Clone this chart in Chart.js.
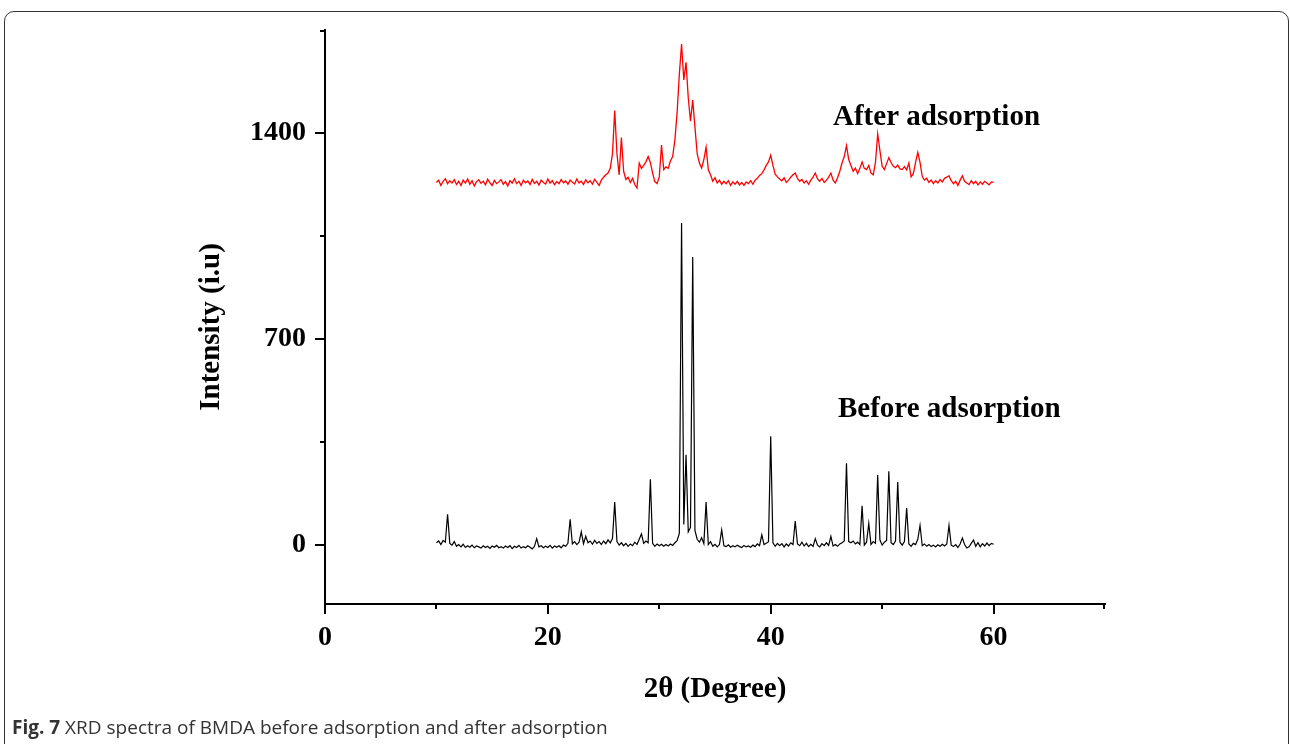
<!DOCTYPE html>
<html><head><meta charset="utf-8">
<script src="https://cdn.jsdelivr.net/npm/chart.js@4.4.0/dist/chart.umd.min.js"></script>
<style>
html,body{margin:0;padding:0;background:#fff;width:1290px;height:744px;overflow:hidden;}
#frame{position:absolute;left:4px;top:11px;width:1285px;height:800px;border:1.5px solid #333;border-radius:10px;box-sizing:border-box;}
#cv{position:absolute;left:0;top:0;}
#caption{position:absolute;left:12px;top:714px;font-family:'Open Sans',sans-serif;font-size:19px;color:#333;white-space:nowrap;}
</style></head><body>
<div id="frame"></div>
<canvas id="cv" width="1290" height="744"></canvas>
<div id="caption"><b>Fig. 7</b> XRD spectra of BMDA before adsorption and after adsorption</div>
<script>
// 2θ sampling grid: 10° to 60° every 0.2°
const twoThetaStart = 10, twoThetaStep = 0.2;

const beforeAdsorption = [
  8, 14, 2, 16, 10,
  105, 6, 0, 12, -4,
  2, -6, 3, -8, -2,
  -7, 0, -9, -3, -6,
  -10, -2, -8, -4, -11,
  -3, -7, -1, -9, -5,
  -10, -3, -8, -2, -12,
  -4, -8, -1, -10, -5,
  -9, -2, -7, -13, -4,
  22, -6, -2, -9, -4,
  -8, -1, -10, -3, -7,
  -2, -9, 0, -4, 6,
  88, 4, 12, 2, 10,
  45, 5, 30, 8, 14,
  3, 16, 6, 12, 2,
  14, 5, 18, 8, 22,
  146, 12, 0, 8, -2,
  6, -4, 4, -2, 10,
  2, 20, 38, 6, 14,
  8, 224, 6, -4, 4,
  -2, 3, -4, 2, -3,
  4, -1, 8, 15, 40,
  1094, 70, 307, 45, 60,
  979, 50, 20, 10, 25,
  5, 146, 2, 12, -4,
  3, -6, 2, 52, -2,
  -5, 1, -7, -2, -6,
  0, -5, -8, -1, -6,
  -3, -7, 0, -5, 4,
  -2, 35, 2, 6, 12,
  370, 8, -4, 6, -2,
  5, -6, 4, -3, 8,
  2, 82, 4, -2, 10,
  -3, 6, -5, 3, -4,
  22, 0, -6, 5, -2,
  8, -1, 30, -3, 2,
  -4, 4, 8, 14, 278,
  12, 8, 14, 4, 10,
  2, 134, 0, 10, 74,
  2, 12, 6, 238, 18,
  0, 10, 16, 251, 8,
  2, 14, 214, 10, 0,
  12, 126, 4, -4, 6,
  2, 20, 67, -2, 4,
  -4, 2, -5, 0, -6,
  1, -4, 3, -3, 4,
  67, 0, -5, 2, -8,
  4, 24, 2, -10, -6,
  6, 17, -4, 8, -6,
  5, -3, 7, -2, 6,
  3
];

const afterAdsorption = [
  1232, 1240, 1222, 1236, 1245,
  1228, 1238, 1230, 1242, 1225,
  1236, 1222, 1240, 1230, 1244,
  1226, 1238, 1220, 1235, 1241,
  1229, 1236, 1224, 1243, 1231,
  1222, 1239, 1228, 1234, 1242,
  1226, 1235, 1220, 1238, 1230,
  1245, 1228, 1236, 1222, 1240,
  1231, 1237, 1225, 1242, 1229,
  1236, 1223, 1240, 1232, 1227,
  1244, 1230, 1238, 1224, 1235,
  1228, 1242, 1231, 1237, 1226,
  1240, 1233, 1227, 1244, 1230,
  1236, 1225, 1241, 1231, 1238,
  1226, 1243, 1232, 1222, 1240,
  1250, 1258, 1264, 1280, 1330,
  1476, 1330, 1258, 1385, 1270,
  1242, 1250, 1232, 1246, 1225,
  1213, 1298, 1280, 1290, 1302,
  1320, 1300, 1264, 1235, 1228,
  1251, 1359, 1276, 1285, 1280,
  1305, 1320, 1376, 1470, 1600,
  1702, 1580, 1640, 1520, 1440,
  1512, 1420, 1330, 1298, 1281,
  1310, 1352, 1275, 1258, 1236,
  1248, 1230, 1240, 1226, 1236,
  1228, 1238, 1222, 1234, 1226,
  1236, 1224, 1232, 1222, 1234,
  1228, 1238, 1226, 1240, 1246,
  1256, 1262, 1275, 1290, 1302,
  1325, 1290, 1260, 1251, 1244,
  1238, 1248, 1232, 1240, 1250,
  1258, 1264, 1246, 1236, 1242,
  1230, 1238, 1226, 1240, 1250,
  1264, 1244, 1236, 1246, 1232,
  1240, 1250, 1264, 1240, 1230,
  1248, 1270, 1298, 1320, 1357,
  1310, 1290, 1270, 1281, 1262,
  1280, 1302, 1280, 1276, 1290,
  1264, 1258, 1300, 1397, 1340,
  1287, 1276, 1296, 1316, 1300,
  1287, 1282, 1291, 1278, 1276,
  1286, 1275, 1298, 1251, 1262,
  1300, 1334, 1300, 1252, 1240,
  1246, 1232, 1240, 1228, 1238,
  1230, 1242, 1234, 1246, 1250,
  1255, 1238, 1228, 1236, 1222,
  1240, 1255, 1236, 1230, 1225,
  1238, 1228, 1236, 1224, 1234,
  1226, 1236, 1230, 1224, 1234,
  1232
];

const seriesLabels = ['Before adsorption', 'After adsorption'];
const xTickValues = [0, 20, 40, 60];
const xMinorTickValues = [10, 30, 50, 70];
const yTickValues = [0, 700, 1400];
const yMinorTickValues = [350, 1050, 1750];
const xAxisTitle = '2\u03B8 (Degree)';
const yAxisTitle = 'Intensity (i.u)';

function toPoints(arr) {
  return arr.map((v, i) => ({ x: +(twoThetaStart + i * twoThetaStep).toFixed(2), y: v }));
}

const SERIF = "'Liberation Serif', 'Times New Roman', serif";

const decor = {
  id: 'decor',
  afterDraw(chart) {
    const { ctx, chartArea, scales: { x, y } } = chart;
    ctx.save();
    ctx.strokeStyle = '#000';
    ctx.lineWidth = 2;
    ctx.lineCap = 'butt';
    ctx.beginPath();
    yTickValues.forEach(v => { const py = Math.round(y.getPixelForValue(v)); ctx.moveTo(chartArea.left - 10, py); ctx.lineTo(chartArea.left, py); });
    yMinorTickValues.forEach(v => { const py = Math.round(y.getPixelForValue(v)) + (v === 1750 ? 1 : 0); ctx.moveTo(chartArea.left - 5, py); ctx.lineTo(chartArea.left, py); });
    xTickValues.forEach(v => { const px = Math.round(x.getPixelForValue(v)); ctx.moveTo(px, chartArea.bottom); ctx.lineTo(px, chartArea.bottom + 10); });
    xMinorTickValues.forEach(v => { const px = Math.round(x.getPixelForValue(v)) - (v === 70 ? 1 : 0); ctx.moveTo(px, chartArea.bottom); ctx.lineTo(px, chartArea.bottom + 5); });
    ctx.stroke();

    ctx.fillStyle = '#000';
    ctx.font = 'bold 29px ' + SERIF;
    ctx.textBaseline = 'alphabetic';
    ctx.textAlign = 'left';
    ctx.fillText(seriesLabels[1], 833, 125);
    ctx.fillText(seriesLabels[0], 838, 417);
    ctx.textAlign = 'center';
    ctx.fillText(xAxisTitle, (chartArea.left + chartArea.right) / 2, 697);
    ctx.translate(219, 327);
    ctx.rotate(-Math.PI / 2);
    ctx.fillText(yAxisTitle, 0, 0);
    ctx.restore();
  }
};

const tickFont = { family: SERIF, size: 28, weight: 'bold' };

new Chart(document.getElementById('cv'), {
  type: 'line',
  data: {
    datasets: [
      { label: seriesLabels[0], data: toPoints(beforeAdsorption), borderColor: '#000000', borderWidth: 1.2, pointRadius: 0, tension: 0, fill: false },
      { label: seriesLabels[1], data: toPoints(afterAdsorption), borderColor: '#ff0000', borderWidth: 1.3, pointRadius: 0, tension: 0, fill: false }
    ]
  },
  options: {
    responsive: false,
    animation: false,
    devicePixelRatio: 1,
    layout: { padding: { top: 30, right: 185, bottom: 0, left: 0 } },
    plugins: { legend: { display: false }, tooltip: { enabled: false }, title: { display: false } },
    scales: {
      x: {
        type: 'linear', min: 0, max: 70,
        afterBuildTicks: s => { s.ticks = xTickValues.map(v => ({ value: v })); },
        afterFit: s => { s.height = 140; s.paddingLeft = 0; s.paddingRight = 0; },
        ticks: { font: tickFont, color: '#000', padding: 9, maxRotation: 0, autoSkip: false, callback: v => String(v) },
        grid: { display: false },
        border: { display: true, color: '#000', width: 2 }
      },
      y: {
        type: 'linear', min: -200, max: 1750,
        afterBuildTicks: s => { s.ticks = yTickValues.map(v => ({ value: v })); },
        afterFit: s => { s.width = 325; s.paddingTop = 0; s.paddingBottom = 0; },
        ticks: { font: tickFont, color: '#000', padding: 11, autoSkip: false, callback: v => String(v) },
        grid: { display: false },
        border: { display: true, color: '#000', width: 2 }
      }
    }
  },
  plugins: [decor]
});
</script>
</body></html>
